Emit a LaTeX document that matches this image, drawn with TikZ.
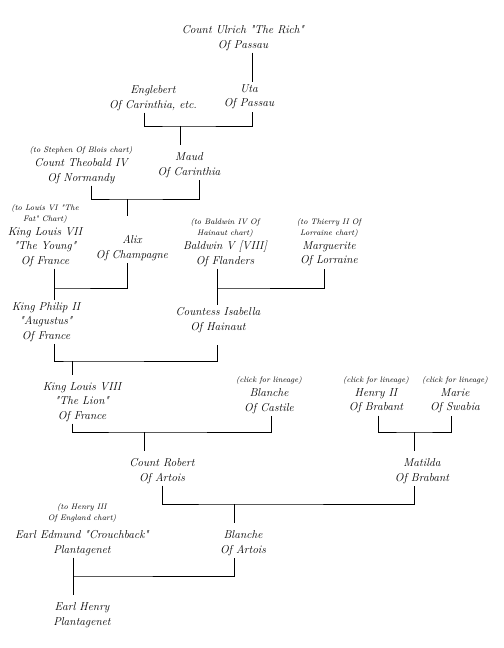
\documentclass[tikz,border=0pt]{standalone}
\usetikzlibrary{positioning}
\newcommand\qt{\textquotedbl}
\tikzset{
  person/.style={align=center, inner sep=2bp, font=\fontsize{11.5}{14.5}\selectfont\itshape},
  note/.style={align=center, inner sep=0.5bp, font=\fontsize{8}{11}\selectfont\itshape},
  famline/.style={line width=0.9bp},
  dropline/.style={famline, shorten >=5bp}
}
\begin{document}
\begin{tikzpicture}[x=1bp,y=-1bp]
  \useasboundingbox (0,0) rectangle (504,648);
  % people
  \node[person] (ulrich) at (243,38) {Count Ulrich \qt The Rich\qt\\Of Passau};
  \node[person] (englebert) at (153,98) {Englebert\\Of Carinthia, etc.};
  \node[person] (uta) at (249,97) {Uta\\Of Passau};
  \node[person] (theobald) at (81,171) {Count Theobald IV\\Of Normandy};
  \node[note, above=1bp of theobald] (theobald-note) {(to Stephen Of Blois chart)};
  \node[person] (maud) at (189,165) {Maud\\Of Carinthia};
  \node[person] (louis7) at (45,247) {King Louis VII\\\qt The Young\qt\\Of France};
  \node[note, above=1bp of louis7] (louis7-note) {(to Louis VI \qt The\\Fat\qt{} Chart)};
  \node[person] (alix) at (132,248) {Alix\\Of Champagne};
  \node[person] (baldwin) at (225,254) {Baldwin V [VIII]\\Of Flanders};
  \node[note, above=1bp of baldwin] (baldwin-note) {(to Baldwin IV Of\\Hainaut chart)};
  \node[person] (marguerite) at (329,254) {Marguerite\\Of Lorraine};
  \node[note, above=1bp of marguerite] (marguerite-note) {(to Thierry II Of\\Lorraine chart)};
  \node[person] (philip) at (46,322) {King Philip II\\\qt Augustus\qt\\Of France};
  \node[person] (isabella) at (218,320) {Countess Isabella\\Of Hainaut};
  \node[person] (louis8) at (82,402) {King Louis VIII\\\qt The Lion\qt\\Of France};
  \node[person] (blanchec) at (269,401) {Blanche\\Of Castile};
  \node[note, above=1bp of blanchec] (blanchec-note) {(click for lineage)};
  \node[person] (henry2) at (376,401) {Henry II\\Of Brabant};
  \node[note, above=1bp of henry2] (henry2-note) {(click for lineage)};
  \node[person] (marie) at (455,401) {Marie\\Of Swabia};
  \node[note, above=1bp of marie] (marie-note) {(click for lineage)};
  \node[person] (robert) at (162,471) {Count Robert\\Of Artois};
  \node[person] (matilda) at (422,471) {Matilda\\Of Brabant};
  \node[person] (edmund) at (82,543) {Earl Edmund \qt Crouchback\qt\\Plantagenet};
  \node[note, above=5bp of edmund] (edmund-note) {(to Henry III\\Of England chart)};
  \node[person] (blanchea) at (243,543) {Blanche\\Of Artois};
  \node[person] (henry) at (82,615) {Earl Henry\\Plantagenet};
  %
  % Ulrich to Uta
  \draw[famline] ([xshift=9bp]ulrich.south) -- ([xshift=9bp]ulrich.south |- uta.north);
  % Englebert + Uta
  \coordinate (m1) at (180,126);
  \draw[famline] ([xshift=-9bp]englebert.south) |- (m1) -| ([xshift=3bp]uta.south);
  \draw[dropline] (m1) -- (m1 |- maud.north);
  % Theobald + Maud
  \coordinate (m2) at (127,199);
  \draw[famline] ([xshift=10bp]theobald.south) |- (m2) -| ([xshift=10bp]maud.south);
  \draw[famline, shorten >=17bp] (m2) -- (m2 |- alix.north);
  % Louis VII + Alix
  \coordinate (m3) at (54,288);
  \draw[famline] ([xshift=9bp]louis7.south) |- (m3) -| ([xshift=-5bp]alix.south);
  \draw[famline] (m3) -- (m3 |- philip.north);
  % Baldwin + Marguerite
  \coordinate (m4) at (217,288);
  \draw[famline] ([xshift=-8bp]baldwin.south) |- (m4) -| ([xshift=-5bp]marguerite.south);
  \draw[famline] (m4) -- (m4 |- isabella.north);
  % Philip + Isabella
  \coordinate (m5) at (72,361);
  \draw[famline, shorten >=10bp] ([xshift=8bp]philip.south) |- (m5) -| ([xshift=-1bp]isabella.south);
  \draw[dropline] (m5) -- (m5 |- louis8.north);
  % Louis VIII + Blanche
  \coordinate (m6) at (144,432);
  \draw[famline] ([xshift=-10bp]louis8.south) |- (m6) -| ([xshift=2bp]blanchec.south);
  \draw[dropline] (m6) -- (m6 |- robert.north);
  % Henry II + Marie
  \coordinate (m7) at (414,432);
  \draw[famline] ([xshift=2bp]henry2.south) |- (m7) -| ([xshift=-4bp]marie.south);
  \draw[dropline] (m7) -- (m7 |- matilda.north);
  % Robert + Matilda
  \coordinate (m8) at (234,504);
  \draw[famline] (robert.south) |- (m8) -| ([xshift=-8bp]matilda.south);
  \draw[dropline] (m8) -- (m8 |- blanchea.north);
  % Edmund + Blanche
  \coordinate (m9) at (73,576);
  \draw[famline] ([xshift=-9bp]edmund.south) |- (m9) -| ([xshift=-9bp]blanchea.south);
  \draw[dropline] (m9) -- (m9 |- henry.north);
\end{tikzpicture}
\end{document}
